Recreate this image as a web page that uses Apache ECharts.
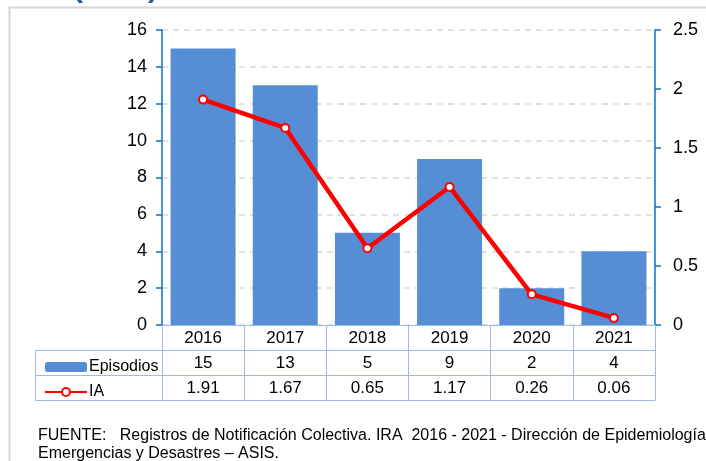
<!DOCTYPE html>
<html>
<head>
<meta charset="utf-8">
<script src="https://cdn.jsdelivr.net/npm/echarts@6/dist/echarts.min.js"></script>
<style>
  html, body { margin: 0; padding: 0; background: #fff; }
  #main { width: 706px; height: 461px; }
</style>
</head>
<body>
<div id="main"></div>
<script>
// Data
const years = ["2016", "2017", "2018", "2019", "2020", "2021"];
const episodios = [15, 13, 5, 9, 2, 4];
const ia = [1.91, 1.67, 0.65, 1.17, 0.26, 0.06];

const leftTicks = { min: 0, max: 16, interval: 2 };
const rightTicks = { min: 0, max: 2.5, interval: 0.5 };

const font = '"Liberation Sans", Arial, sans-serif';
const tableLine = "#9cbde3";
const axisBlue = "#0a72c8";

// One category axis per table row, stacked under the plot
const tableAxis = (offset, formatter, showTicks, showLabel) => ({
  type: "category",
  data: years,
  position: "bottom",
  offset: offset,
  axisLine: { show: true, onZero: false, lineStyle: { color: tableLine, width: 1 } },
  axisTick: { show: showTicks, length: 25, lineStyle: { color: tableLine } },
  axisLabel: {
    show: showLabel,
    margin: 5,
    fontSize: 17,
    fontFamily: font,
    color: "#000",
    formatter: formatter,
  },
  splitLine: { show: false },
});

const chart = echarts.init(document.getElementById("main"));

chart.setOption({
  backgroundColor: "#fff",
  animation: false,
  grid: { left: 162, right: 51, top: 30, bottom: 136 },
  legend: {
    orient: "vertical",
    left: 39,
    top: 353,
    itemWidth: 42,
    itemHeight: 10,
    itemGap: 7,
    textStyle: { fontSize: 16, lineHeight: 18, fontFamily: font, color: "#000", padding: [0, 0, 0, -3] },
    data: ["Episodios", "IA"],
  },
  xAxis: [
    tableAxis(0, (v) => v, true, true),
    tableAxis(25, (v, i) => String(episodios[i]), true, true),
    tableAxis(50, (v, i) => ia[i].toFixed(2), true, true),
    tableAxis(75, () => "", false, false),
  ],
  yAxis: [
    {
      type: "value",
      position: "left",
      min: leftTicks.min,
      max: leftTicks.max,
      interval: leftTicks.interval,
      axisLine: { show: true, lineStyle: { color: axisBlue, width: 1.5 } },
      axisTick: { show: true, length: 6, lineStyle: { color: axisBlue, width: 1.5 } },
      axisLabel: { margin: 15, fontSize: 18, fontFamily: font, color: "#000" },
      splitLine: { show: true, lineStyle: { color: "#d9d9d9", type: [6, 5], width: 1.5 } },
    },
    {
      type: "value",
      position: "right",
      min: rightTicks.min,
      max: rightTicks.max,
      interval: rightTicks.interval,
      axisLine: { show: true, lineStyle: { color: axisBlue, width: 1.5 } },
      axisTick: { show: true, length: 6, lineStyle: { color: axisBlue, width: 1.5 } },
      axisLabel: { margin: 18, fontSize: 18, fontFamily: font, color: "#000" },
      splitLine: { show: false },
    },
  ],
  series: [
    {
      name: "Episodios",
      type: "bar",
      xAxisIndex: 0,
      yAxisIndex: 0,
      data: episodios,
      barWidth: 65,
      itemStyle: { color: "#558ed5" },
    },
    {
      name: "IA",
      type: "line",
      xAxisIndex: 0,
      yAxisIndex: 1,
      data: ia,
      symbol: "circle",
      symbolSize: 8,
      showSymbol: true,
      lineStyle: { color: "#ff0000", width: 4.5 },
      itemStyle: { color: "#fff", borderColor: "#ff0000", borderWidth: 2 },
    },
  ],
  graphic: [
    // outer frame of the figure
    {
      type: "rect",
      shape: { x: 9.5, y: 7.5, width: 760, height: 520 },
      style: { fill: null, stroke: "#d6d6d6", lineWidth: 2 },
      silent: true,
    },
    // title, cut off at the top of the picture
    {
      type: "text",
      left: -2,
      top: -26,
      style: { text: "2021 (SE 4).", font: 'bold 30px ' + font, fill: "#2a5a9c" },
      silent: true,
    },
    // legend column of the data table
    {
      type: "rect",
      shape: { x: 35.5, y: 350.5, width: 127, height: 50 },
      style: { fill: null, stroke: tableLine, lineWidth: 1 },
      silent: true,
    },
    {
      type: "line",
      shape: { x1: 35.5, y1: 375.5, x2: 162, y2: 375.5 },
      style: { stroke: tableLine, lineWidth: 1 },
      silent: true,
    },
    // source note
    {
      type: "text",
      left: 38,
      top: 427,
      style: {
        text: "FUENTE:   Registros de Notificación Colectiva. IRA  2016 - 2021 - Dirección de Epidemiología\nEmergencias y Desastres – ASIS.",
        font: "16px " + font,
        lineHeight: 18,
        fill: "#000",
      },
      silent: true,
    },
  ],
});
</script>
</body>
</html>
